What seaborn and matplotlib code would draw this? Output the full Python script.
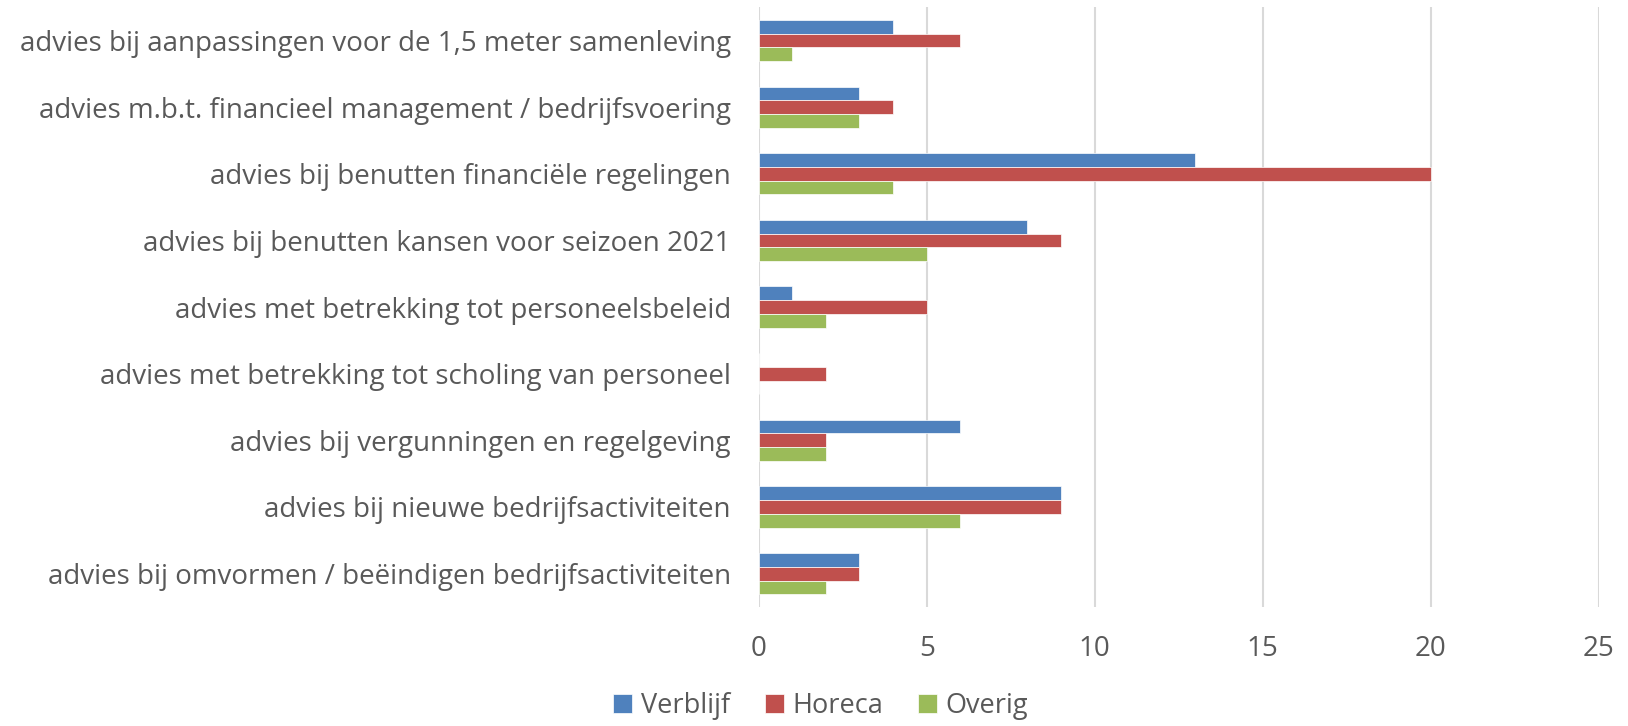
import pandas as pd
import matplotlib.pyplot as plt
import seaborn as sns

categories = [
    'advies bij aanpassingen voor de 1,5 meter samenleving',
    'advies m.b.t. financieel management / bedrijfsvoering',
    'advies bij benutten financiële regelingen',
    'advies bij benutten kansen voor seizoen 2021',
    'advies met betrekking tot personeelsbeleid',
    'advies met betrekking tot scholing van personeel',
    'advies bij vergunningen en regelgeving',
    'advies bij nieuwe bedrijfsactiviteiten',
    'advies bij omvormen / beëindigen bedrijfsactiviteiten',
]
series = ['Verblijf', 'Horeca', 'Overig']
verblijf = [4, 3, 13, 8, 1, 0, 6, 9, 3]
horeca = [6, 4, 20, 9, 5, 2, 2, 9, 3]
overig = [1, 3, 4, 5, 2, 0, 2, 6, 2]
x_ticks = [0, 5, 10, 15, 20, 25]

colors = {'Verblijf': '#4F81BD', 'Horeca': '#C0504D', 'Overig': '#9BBB59'}
text_color = '#595959'

df = pd.DataFrame({
    'Categorie': categories * 3,
    'Sector': ['Verblijf'] * 9 + ['Horeca'] * 9 + ['Overig'] * 9,
    'Aantal': verblijf + horeca + overig,
})

sns.set_style('white')
plt.rcParams['font.family'] = ['Open Sans', 'DejaVu Sans']

fig = plt.figure(figsize=(16.28, 7.26), dpi=100)
ax = fig.add_axes([0.466, 0.164, 0.516, 0.826])

sns.barplot(data=df, y='Categorie', x='Aantal', hue='Sector', order=categories,
            hue_order=series, palette=colors, width=0.62, orient='h', ax=ax,
            edgecolor='white', linewidth=0.5, errorbar=None, saturation=1)

ax.set_xlim(0, 25)
ax.set_xticks(x_ticks)
ax.set_xticklabels([str(t) for t in x_ticks])
ax.xaxis.grid(True, color='#D9D9D9', linewidth=1.5)
ax.set_axisbelow(True)
for s in ax.spines.values():
    s.set_visible(False)
ax.tick_params(axis='both', length=0, labelsize=20, colors=text_color)
ax.tick_params(axis='y', pad=20)
ax.tick_params(axis='x', pad=20)
ax.set_xlabel('')
ax.set_ylabel('')

ax.legend(loc='lower center', bbox_to_anchor=(0.504, -0.025), bbox_transform=fig.transFigure,
          ncol=3, frameon=False, fontsize=19.5, handlelength=0.7, handleheight=0.7,
          handletextpad=0.3, columnspacing=1.3, labelcolor=text_color)

fig.savefig('out.png', dpi=100)
